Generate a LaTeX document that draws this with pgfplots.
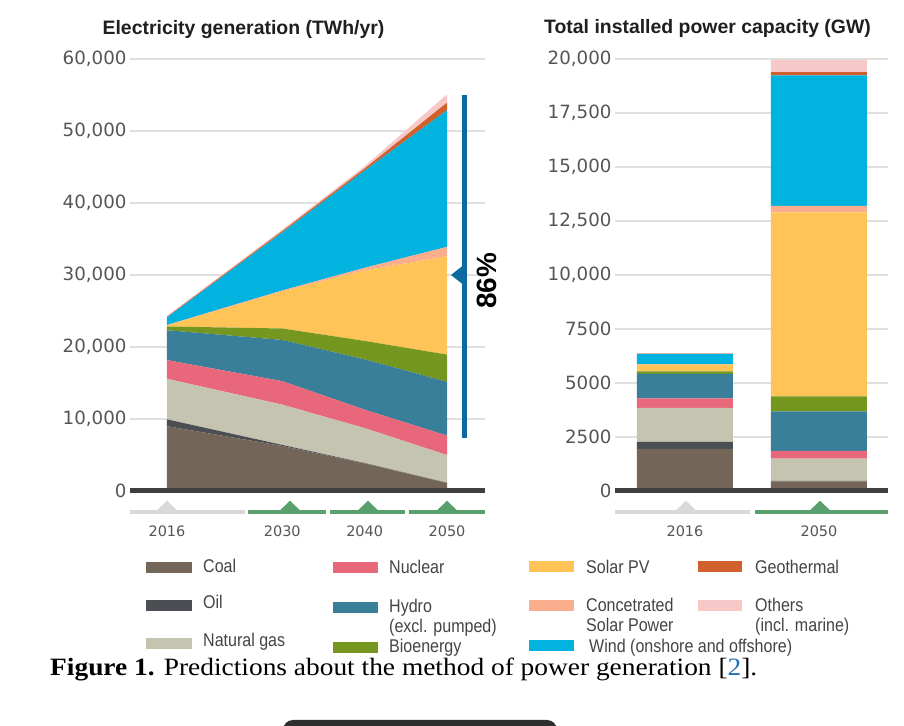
\documentclass[border=0pt]{standalone}
\usepackage{pgfplots}
\pgfplotsset{compat=1.18}
\usepackage{fontspec}
\setmainfont{Liberation Sans}
\newfontfamily\tickfont{DejaVu Sans}
\newfontfamily\legfont[FakeStretch=0.87]{Liberation Sans}
\newfontfamily\capfont[FakeStretch=1.1]{Liberation Serif}
\definecolor{cCoal}{HTML}{736658}
\definecolor{cOil}{HTML}{4B4F54}
\definecolor{cGas}{HTML}{C5C4B1}
\definecolor{cNuc}{HTML}{E9677B}
\definecolor{cHydro}{HTML}{3A7F99}
\definecolor{cBio}{HTML}{75961F}
\definecolor{cSolar}{HTML}{FEC458}
\definecolor{cCSP}{HTML}{FAAE8E}
\definecolor{cWind}{HTML}{02B3E0}
\definecolor{cGeo}{HTML}{D0612E}
\definecolor{cOther}{HTML}{F7C8C8}
\definecolor{bandG}{HTML}{5A9F6E}
\definecolor{bandY}{HTML}{D9D9D9}
\definecolor{annB}{HTML}{0B6BA0}
\definecolor{gridc}{HTML}{E0E0E0}
\definecolor{basec}{HTML}{404040}
\definecolor{tickc}{HTML}{555555}
\definecolor{legc}{HTML}{444444}
\definecolor{capblue}{HTML}{1F6FB4}
\begin{document}
\begin{tikzpicture}[x=1bp,y=1bp]
\useasboundingbox[fill=white] (0,0) rectangle (904,726);
\pgfplotsset{
  common/.style={
    scale only axis, anchor=south west, height=432bp,
    axis line style={draw=none}, major tick length=0pt,
    scaled y ticks=false, scaled x ticks=false,
    ymajorgrids, grid style={draw=gridc, line width=1.5bp},
    yticklabel style={font=\tickfont\fontsize{18.3}{18.3}\selectfont, text=tickc},
    xticklabel style={font=\tickfont\fontsize{14.5}{14.5}\selectfont, text=tickc, yshift=-31bp},
    clip=false,
  }
}
% ---------- left: electricity generation ----------
\begin{axis}[common, at={(130bp,235bp)}, width=355bp,
  xmin=2011.51, xmax=2054.61, ymin=0, ymax=60000,
  ytick={0,10000,20000,30000,40000,50000,60000},
  yticklabels={0,{10,000},{20,000},{30,000},{40,000},{50,000},{60,000}},
  xtick={2016,2030,2040,2050}, xticklabels={2016,2030,2040,2050},
  stack plots=y]
\addplot[fill=cCoal, draw=none] coordinates {(2016,9000) (2030,6250) (2040,3830) (2050,1120)} \closedcycle;
\addplot[fill=cOil, draw=none] coordinates {(2016,950) (2030,150) (2040,50) (2050,20)} \closedcycle;
\addplot[fill=cGas, draw=none] coordinates {(2016,5630) (2030,5590) (2040,4850) (2050,3850)} \closedcycle;
\addplot[fill=cNuc, draw=none] coordinates {(2016,2600) (2030,3260) (2040,2560) (2050,2700)} \closedcycle;
\addplot[fill=cHydro, draw=none] coordinates {(2016,4150) (2030,5730) (2040,6990) (2050,7470)} \closedcycle;
\addplot[fill=cBio, draw=none] coordinates {(2016,520) (2030,1590) (2040,2560) (2050,3780)} \closedcycle;
\addplot[fill=cSolar, draw=none] coordinates {(2016,150) (2030,5130) (2040,9790) (2050,13660)} \closedcycle;
\addplot[fill=cCSP, draw=none] coordinates {(2016,50) (2030,150) (2040,370) (2050,1300)} \closedcycle;
\addplot[fill=cWind, draw=none] coordinates {(2016,1050) (2030,8050) (2040,13500) (2050,18970)} \closedcycle;
\addplot[fill=cGeo, draw=none] coordinates {(2016,100) (2030,200) (2040,300) (2050,1070)} \closedcycle;
\addplot[fill=cOther, draw=none] coordinates {(2016,100) (2030,200) (2040,300) (2050,1160)} \closedcycle;
\end{axis}
% ---------- right: installed capacity ----------
\begin{axis}[common, at={(615bp,235bp)}, width=273bp,
  xmin=-0.522, xmax=1.515, ymin=0, ymax=20000,
  ybar stacked, bar width=96bp,
  ytick={0,2500,5000,7500,10000,12500,15000,17500,20000},
  yticklabels={0,2500,5000,7500,{10,000},{12,500},{15,000},{17,500},{20,000}},
  xtick={0,1}, xticklabels={2016,2050}]
\addplot[fill=cCoal, draw=none] coordinates {(0,1950) (1,450)};
\addplot[fill=cOil, draw=none] coordinates {(0,320) (1,20)};
\addplot[fill=cGas, draw=none] coordinates {(0,1576) (1,1030)};
\addplot[fill=cNuc, draw=none] coordinates {(0,441) (1,362)};
\addplot[fill=cHydro, draw=none] coordinates {(0,1139) (1,1828)};
\addplot[fill=cBio, draw=none] coordinates {(0,108) (1,690)};
\addplot[fill=cSolar, draw=none] coordinates {(0,314) (1,8519)};
\addplot[fill=cCSP, draw=none] coordinates {(0,20) (1,300)};
\addplot[fill=cWind, draw=none] coordinates {(0,484) (1,6044)};
\addplot[fill=cGeo, draw=none] coordinates {(0,13) (1,150)};
\addplot[fill=cOther, draw=none] coordinates {(0,10) (1,570)};
\node[font=\bfseries\fontsize{23}{23}\selectfont] at (axis cs:1,16280) {6044};
\node[font=\bfseries\fontsize{23}{23}\selectfont] at (axis cs:1,8860) {8519};
\end{axis}
% baselines
\draw[basec, line width=5bp] (130,235) -- (485,235);
\draw[basec, line width=5bp] (615,235) -- (888,235);
% timeline bands
\draw[bandY, line width=4bp] (130,213.7) -- (245,213.7);
\fill[bandY] (155,213.7) -- (167,225.3) -- (179,213.7) -- cycle;
\draw[bandG, line width=4bp] (248,213.7) -- (326,213.7);
\draw[bandG, line width=4bp] (330,213.7) -- (405,213.7);
\draw[bandG, line width=4bp] (409,213.7) -- (485,213.7);
\fill[bandG] (278,213.7) -- (290,225.3) -- (302,213.7) -- cycle;
\fill[bandG] (356,213.7) -- (368,225.3) -- (380,213.7) -- cycle;
\fill[bandG] (435,213.7) -- (447,225.3) -- (459,213.7) -- cycle;
\draw[bandY, line width=4bp] (615,213.7) -- (750,213.7);
\fill[bandY] (674,213.7) -- (686,225.3) -- (698,213.7) -- cycle;
\draw[bandG, line width=4bp] (755,213.7) -- (888,213.7);
\fill[bandG] (808,213.7) -- (820,225.3) -- (832,213.7) -- cycle;
% 86% annotation
\draw[annB, line width=5bp] (464,631) -- (464,288);
\fill[annB] (451,451) -- (465,462) -- (465,440) -- cycle;
\node[rotate=90, font=\bfseries\fontsize{28}{28}\selectfont] at (487,445) {86\%};
% titles
\node[anchor=base, font=\bfseries\fontsize{19.5}{19.5}\selectfont, text=black!88] at (243.5,691) {Electricity generation (TWh/yr)};
\node[anchor=base, font=\bfseries\fontsize{19.5}{19.5}\selectfont, text=black!88] at (707.5,692.7) {Total installed power capacity (GW)};
% legend
\begin{scope}[every node/.style={anchor=base west, inner sep=0pt, font=\legfont\fontsize{18.5}{18.5}\selectfont, text=legc}]
\fill[cCoal] (146,152.5) rectangle (192,163.5);
\node at (203,153.5) {Coal};
\fill[cOil] (146,114.5) rectangle (192,125.5);
\node at (203,117) {Oil};
\fill[cGas] (146,76.8) rectangle (192,87.8);
\node at (203,79.5) {Natural gas};
\fill[cNuc] (333,153) rectangle (378,164);
\node at (389,152.5) {Nuclear};
\fill[cHydro] (333,113) rectangle (378,124);
\node at (389,113.5) {Hydro};
\node at (389,93) {(excl. pumped)};
\fill[cBio] (333,73) rectangle (378,84);
\node at (389,73) {Bioenergy};
\fill[cSolar] (529,153.5) rectangle (574,164.5);
\node at (586,152.5) {Solar PV};
\fill[cCSP] (529,114.5) rectangle (574,125.5);
\node at (586,114.5) {Concetrated};
\node at (586,94.5) {Solar Power};
\fill[cWind] (529,74.5) rectangle (574,85.5);
\node at (589,73) {Wind (onshore and offshore)};
\fill[cGeo] (697.7,153.5) rectangle (742,164.5);
\node at (755,152.5) {Geothermal};
\fill[cOther] (697.7,114.5) rectangle (742,125.5);
\node at (755,114.5) {Others};
\node at (755,94.5) {(incl. marine)};
\end{scope}
% caption
\node[anchor=base west, inner sep=0pt, font=\capfont\fontsize{25}{25}\selectfont] at (50,50) {\textbf{Figure 1.} Predictions about the method of power generation [\textcolor{capblue}{2}].};
\fill[black!82, rounded corners=10bp] (283,-20) rectangle (557,6);
\end{tikzpicture}
\end{document}
